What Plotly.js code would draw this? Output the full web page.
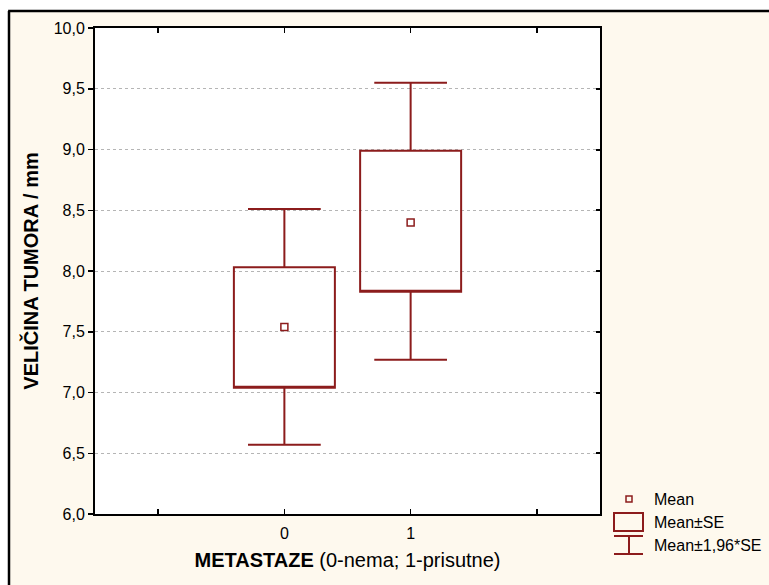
<!DOCTYPE html>
<html>
<head>
<meta charset="utf-8">
<script src="https://cdn.plot.ly/plotly-3.0.1.min.js"></script>
<style>html,body{margin:0;padding:0;background:#fff;}#chart{width:769px;height:585px;}</style>
</head>
<body>
<div id="chart"></div>
<script>
// Data
var categories = [0, 1];                 // METASTAZE (0-nema; 1-prisutne)
var means      = [7.54, 8.40];           // Mean
var seLow      = [7.04, 7.83];           // Mean - SE
var seHigh     = [8.03, 8.99];           // Mean + SE
var ciLow      = [6.57, 7.27];           // Mean - 1,96*SE
var ciHigh     = [8.51, 9.55];           // Mean + 1,96*SE
var xTickVals  = [-1, 0, 1, 2];
var xTickText  = ['', '0', '1', ''];
var legendLabels = ['Mean', 'Mean±SE', 'Mean±1,96*SE'];

var RED = '#8c1c1c';
var FONT = 'Liberation Sans, Arial, sans-serif';

var boxTrace = {
  type: 'box',
  x: categories,
  q1: seLow,
  median: seLow,
  q3: seHigh,
  lowerfence: ciLow,
  upperfence: ciHigh,
  boxpoints: false,
  width: 0.8,
  whiskerwidth: 0.72,
  line: {color: RED, width: 2},
  fillcolor: 'rgba(0,0,0,0)',
  hoverinfo: 'skip',
  showlegend: false
};

var meanTrace = {
  type: 'scatter',
  mode: 'markers',
  x: categories,
  y: means,
  yaxis: 'y2',
  marker: {symbol: 'square-open', size: 7, color: RED, line: {width: 1.5, color: RED}},
  hoverinfo: 'skip',
  showlegend: false
};

var shapes = [
  // white margin strips outside the outer frame
  {type: 'rect', xref: 'paper', yref: 'paper', xsizemode: 'pixel', xanchor: 0, x0: -120, x1: -86, y0: -0.3, y1: 1.2, fillcolor: '#ffffff', line: {width: 0}, layer: 'below'},
  {type: 'rect', xref: 'paper', yref: 'paper', ysizemode: 'pixel', yanchor: 1, y0: 17, y1: 40, x0: -0.3, x1: 1.5, fillcolor: '#ffffff', line: {width: 0}, layer: 'below'},
  // outer frame lines
  {type: 'line', xref: 'paper', yref: 'paper', xsizemode: 'pixel', xanchor: 0, x0: -86, x1: -86, y0: -0.3, y1: 1.035, line: {color: '#000', width: 2.5}},
  {type: 'line', xref: 'paper', yref: 'paper', ysizemode: 'pixel', yanchor: 1, y0: 17, y1: 17, x0: -0.172, x1: 1.5, line: {color: '#000', width: 2.5}},
  // legend symbols
  {type: 'rect', xref: 'paper', yref: 'paper', xsizemode: 'pixel', ysizemode: 'pixel', xanchor: 1, yanchor: 0, x0: 26, x1: 32, y0: 18, y1: 12, line: {color: RED, width: 1.5}, fillcolor: 'rgba(0,0,0,0)'},
  {type: 'rect', xref: 'paper', yref: 'paper', xsizemode: 'pixel', ysizemode: 'pixel', xanchor: 1, yanchor: 0, x0: 14, x1: 43, y0: 1, y1: -17, line: {color: RED, width: 2}, fillcolor: 'rgba(0,0,0,0)'},
  {type: 'line', xref: 'paper', yref: 'paper', xsizemode: 'pixel', ysizemode: 'pixel', xanchor: 1, yanchor: 0, x0: 14, x1: 43, y0: -22, y1: -22, line: {color: RED, width: 2}},
  {type: 'line', xref: 'paper', yref: 'paper', xsizemode: 'pixel', ysizemode: 'pixel', xanchor: 1, yanchor: 0, x0: 14, x1: 43, y0: -40, y1: -40, line: {color: RED, width: 2}},
  {type: 'line', xref: 'paper', yref: 'paper', xsizemode: 'pixel', ysizemode: 'pixel', xanchor: 1, yanchor: 0, x0: 29, x1: 29, y0: -22, y1: -40, line: {color: RED, width: 2}}
];

var legendY = [15, -8, -31];
var annotations = legendLabels.map(function (t, i) {
  return {text: t, xref: 'paper', yref: 'paper', x: 1, y: 0, xshift: 52, yshift: legendY[i],
          xanchor: 'left', yanchor: 'middle', showarrow: false,
          font: {family: FONT, size: 16, color: '#000'}};
});

var layout = {
  width: 769,
  height: 585,
  margin: {l: 95, r: 169, t: 28, b: 71},
  paper_bgcolor: '#fef9ee',
  plot_bgcolor: '#ffffff',
  separators: ',.',
  showlegend: false,
  font: {family: FONT, size: 16, color: '#000'},
  xaxis: {
    range: [-1.5, 2.5],
    tickmode: 'array',
    tickvals: xTickVals,
    ticktext: xTickText,
    ticks: 'inside',
    ticklen: 5,
    tickwidth: 1.5,
    tickcolor: '#000',
    showline: true,
    linecolor: '#000',
    linewidth: 2,
    mirror: 'ticks',
    showgrid: false,
    zeroline: false,
    ticklabelstandoff: 4,
    tickfont: {family: FONT, size: 16, color: '#000'},
    title: {text: '<b>METASTAZE</b> (0-nema; 1-prisutne)', font: {family: FONT, size: 20, color: '#000'}, standoff: 12}
  },
  yaxis: {
    range: [6, 10],
    dtick: 0.5,
    tick0: 6,
    tickformat: '.1f',
    ticks: 'outside',
    ticklen: 5,
    tickwidth: 1.5,
    tickcolor: '#000',
    showline: true,
    linecolor: '#000',
    linewidth: 2,
    mirror: true,
    showgrid: true,
    gridcolor: '#b5b5b5',
    griddash: 'dot',
    gridwidth: 1,
    zeroline: false,
    tickfont: {family: FONT, size: 16, color: '#000'},
    title: {text: '<b>VELIČINA TUMORA / mm</b>', font: {family: FONT, size: 20, color: '#000'}, standoff: 10}
  },
  yaxis2: {
    overlaying: 'y',
    side: 'right',
    matches: 'y',
    range: [6, 10],
    dtick: 0.5,
    tick0: 6,
    ticks: 'inside',
    ticklen: 4,
    tickwidth: 2,
    tickcolor: '#000',
    showticklabels: false,
    showgrid: false,
    showline: false,
    zeroline: false
  },
  shapes: shapes,
  annotations: annotations
};

Plotly.newPlot('chart', [boxTrace, meanTrace], layout, {displayModeBar: false, staticPlot: true});
</script>
</body>
</html>
